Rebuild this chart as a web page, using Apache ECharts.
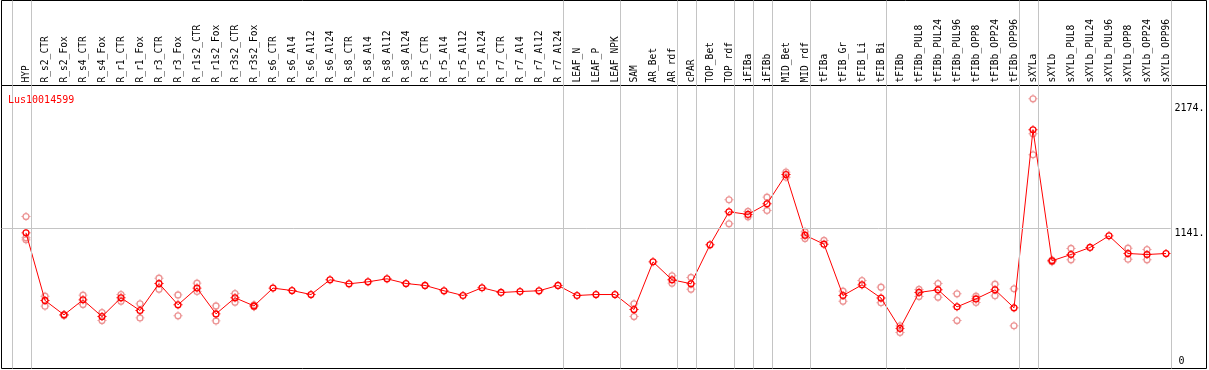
<!DOCTYPE html>
<html>
<head>
<meta charset="utf-8">
<script src="https://cdn.jsdelivr.net/npm/echarts@6/dist/echarts.min.js"></script>
<style>
  html, body { margin: 0; padding: 0; background: #fff; }
  #chart { width: 1209px; height: 370px; }
</style>
</head>
<body>
<div id="chart"></div>
<script>
const geneName = 'Lus10014599';

const categories = [
  'HYP', 'R_s2_CTR', 'R_s2_Fox', 'R_s4_CTR', 'R_s4_Fox', 'R_r1_CTR', 'R_r1_Fox',
  'R_r3_CTR', 'R_r3_Fox', 'R_r1s2_CTR', 'R_r1s2_Fox', 'R_r3s2_CTR', 'R_r3s2_Fox',
  'R_s6_CTR', 'R_s6_Al4', 'R_s6_Al12', 'R_s6_Al24', 'R_s8_CTR', 'R_s8_Al4',
  'R_s8_Al12', 'R_s8_Al24', 'R_r5_CTR', 'R_r5_Al4', 'R_r5_Al12', 'R_r5_Al24',
  'R_r7_CTR', 'R_r7_Al4', 'R_r7_Al12', 'R_r7_Al24', 'LEAF_N', 'LEAF_P', 'LEAF_NPK',
  'SAM', 'AR_Bet', 'AR_rdf', 'cPAR', 'TOP_Bet', 'TOP_rdf', 'iFIBa', 'iFIBb',
  'MID_Bet', 'MID_rdf', 'tFIBa', 'tFIB_Gr', 'tFIB_Li', 'tFIB_Bi', 'tFIBb',
  'tFIBb_PUL8', 'tFIBb_PUL24', 'tFIBb_PUL96', 'tFIBb_OPP8', 'tFIBb_OPP24', 'tFIBb_OPP96',
  'sXYLa', 'sXYLb', 'sXYLb_PUL8', 'sXYLb_PUL24', 'sXYLb_PUL96', 'sXYLb_OPP8',
  'sXYLb_OPP24', 'sXYLb_OPP96'
];

// mean expression per sample
const means = [
  1105, 546, 427, 551, 413, 568, 463, 686, 510, 648, 435, 568, 501,
  648, 628, 595, 717, 684, 700, 725, 686, 670, 626, 587, 651,
  612, 620, 626, 670, 587, 595, 595,
  471, 865, 717, 684, 1006, 1279, 1257, 1345, 1587, 1086,
  1011, 587, 675, 566, 315, 612, 634, 493, 559, 634, 485,
  1957, 874, 926, 984, 1080, 934, 926, 934
];

// individual replicates per sample
const replicates = [
  [1240, 1064, 1047], [581, 499], [430, 422], [590, 513], [446, 380], [595, 540], [518, 402],
  [730, 639], [592, 419], [689, 620], [501, 377], [603, 532], [510, 495],
  [], [], [], [], [], [], [], [], [], [], [], [],
  [], [], [], [], [], [], [],
  [518, 413], [], [750, 689], [736, 639], [], [1378, 1180], [1282, 1237], [1400, 1290],
  [1607, 1565], [1113, 1058], [1042], [623, 540], [711], [656, 527], [336, 281],
  [637, 579], [686, 573], [601, 380], [581, 529], [681, 584], [642, 336],
  [2213, 1924, 1750], [880, 866], [976, 882], [], [], [978, 887], [967, 882], []
];

const yTickLabels = [1141, 2174];
const gridValue = 1141;
// group separators sit just after these sample indices
const separators = [-1, 0, 28, 31, 34, 35, 37, 38, 39, 41, 45, 52, 53, 60];

// open ring with four small ticks, like the original plot marker
const ring = 'path://M1 5A4 4 0 1 0 9 5A4 4 0 1 0 1 5ZM2.5 5A2.5 2.5 0 1 1 7.5 5A2.5 2.5 0 1 1 2.5 5Z' +
  'M4.5 0H5.5V1H4.5ZM4.5 9H5.5V10H4.5ZM0 4.5H1V5.5H0ZM9 4.5H10V5.5H9Z';

const left = 1.5, right = 2.5;
const xMin = (left - 26) / 19, xMax = (1209 - right - 26) / 19;
const font = 'DejaVu Sans Mono';

let repData = [];
replicates.forEach((arr, i) => arr.forEach(v => repData.push([i, v])));

let sepLines = separators.map(s => ({ xAxis: s + 0.25 }));

let myChart = echarts.init(document.getElementById('chart'));
myChart.setOption({
  animation: false,
  title: {
    text: geneName,
    left: 3,
    top: 90,
    textStyle: { color: '#ff0000', fontSize: 10, fontWeight: 'normal', fontFamily: font }
  },
  grid: [
    { left: left, right: right, top: 85.5, bottom: 1.5, show: true, borderColor: '#000', borderWidth: 1 },
    { left: left, right: right, top: 0.5, height: 85, show: true, borderColor: '#000', borderWidth: 1 }
  ],
  xAxis: [
    {
      type: 'value', gridIndex: 0, position: 'top', min: xMin, max: xMax,
      axisLine: { show: false }, axisTick: { show: false }, splitLine: { show: false },
      axisLabel: {
        customValues: categories.map((c, i) => i),
        formatter: v => categories[Math.round(v)],
        rotate: 90, margin: 3, color: '#000', fontSize: 9.6, fontFamily: font
      }
    },
    {
      type: 'value', gridIndex: 1, min: xMin, max: xMax, show: false
    }
  ],
  yAxis: [
    {
      type: 'value', gridIndex: 0, position: 'right', min: -16.5, max: 2323,
      axisLine: { show: false }, axisTick: { show: false }, splitLine: { show: false },
      axisLabel: {
        inside: true, customValues: yTickLabels, formatter: v => v + '.',
        verticalAlign: 'top', margin: 2, color: '#000', fontSize: 10, fontFamily: font
      }
    },
    {
      type: 'value', gridIndex: 0, position: 'right', min: -16.5, max: 2323,
      axisLine: { show: false }, axisTick: { show: false }, splitLine: { show: false },
      axisLabel: {
        inside: true, customValues: [0], formatter: v => String(v),
        verticalAlign: 'bottom', margin: 22, color: '#000', fontSize: 10, fontFamily: font
      }
    },
    { type: 'value', gridIndex: 1, min: 0, max: 1, show: false }
  ],
  series: [
    {
      name: 'header',
      type: 'line',
      xAxisIndex: 1,
      yAxisIndex: 2,
      data: [],
      silent: true,
      markLine: {
        silent: true, symbol: 'none', label: { show: false },
        lineStyle: { color: '#c4c4c4', width: 1, type: 'solid' },
        emphasis: { disabled: true },
        data: sepLines
      }
    },
    {
      name: 'replicates',
      type: 'scatter',
      xAxisIndex: 0,
      yAxisIndex: 0,
      symbol: ring,
      symbolSize: 9,
      itemStyle: { color: '#ec9494', opacity: 1 },
      data: repData,
      z: 2,
      markLine: {
        silent: true, symbol: 'none', label: { show: false },
        lineStyle: { color: '#c4c4c4', width: 1, type: 'solid' },
        emphasis: { disabled: true },
        data: sepLines.concat([[
          { coord: [xMin, gridValue] },
          { coord: [60.25, gridValue] }
        ]])
      }
    },
    {
      name: 'mean',
      type: 'line',
      xAxisIndex: 0,
      yAxisIndex: 0,
      symbol: ring,
      symbolSize: 9,
      showAllSymbol: true,
      itemStyle: { color: '#ff0000', borderWidth: 0 },
      lineStyle: { color: '#ff0000', width: 1 },
      data: means.map((v, i) => [i, v]),
      z: 3
    }
  ]
});
</script>
</body>
</html>
